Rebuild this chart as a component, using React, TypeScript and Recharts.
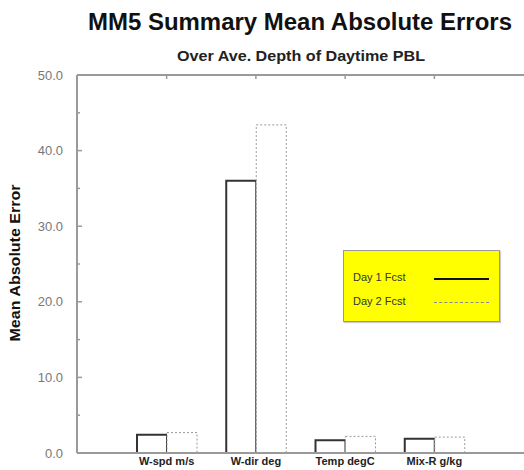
import { BarChart, Bar, XAxis, YAxis, Legend } from "recharts";

const categories = ["W-spd m/s", "W-dir deg", "Temp degC", "Mix-R g/kg"];
const day1Fcst = [2.4, 36.0, 1.7, 1.9];
const day2Fcst = [2.7, 43.4, 2.2, 2.1];
const yTicks = [0, 5, 10, 15, 20, 25, 30, 35, 40, 45, 50];

const data = categories.map((name, i) => ({ name, day1: day1Fcst[i], day2: day2Fcst[i] }));

const FONT = "'Liberation Sans', Arial, sans-serif";
const AXIS = "#9a9a9a";

const LeftTick = ({ x, y, payload }: any) => {
  const major = payload.value % 10 === 0;
  return (
    <g>
      <line x1={x} x2={x + (major ? 5 : 3)} y1={y} y2={y} stroke={AXIS} strokeWidth={1.5} />
      {major && (
        <text x={x - 14} y={y} dy="0.36em" textAnchor="end" fontSize={13} fill="#777" fontFamily={FONT}>
          {payload.value.toFixed(1)}
        </text>
      )}
    </g>
  );
};

const RightTick = ({ x, y, payload }: any) => {
  const major = payload.value % 10 === 0;
  return <line x1={x} x2={x - (major ? 5 : 3)} y1={y} y2={y} stroke={AXIS} strokeWidth={1.5} />;
};

const BottomTick = ({ x, y, payload }: any) => (
  <text x={x} y={y + 12} textAnchor="middle" fontSize={11} fontWeight="bold" fill="#222" fontFamily={FONT}>
    {payload.value}
  </text>
);

const TopTick = ({ x, y }: any) => <line x1={x} x2={x} y1={y} y2={y + 4} stroke={AXIS} strokeWidth={1.5} />;

const LegendBox = () => (
  <div
    style={{
      width: 157,
      height: 72,
      boxSizing: "border-box",
      background: "#ffff00",
      border: "1px solid #999",
      boxShadow: "1px 1px 1px #ccc",
      fontFamily: FONT,
      fontSize: 11,
      color: "#333",
      position: "relative",
    }}
  >
    <div style={{ position: "absolute", left: 9, top: 20 }}>Day 1 Fcst</div>
    <div style={{ position: "absolute", left: 90, top: 27, width: 55, borderTop: "2.5px solid #111" }} />
    <div style={{ position: "absolute", left: 9, top: 44 }}>Day 2 Fcst</div>
    <div style={{ position: "absolute", left: 90, top: 51, width: 55, borderTop: "1px dashed #888" }} />
  </div>
);

export default function App() {
  return (
    <div style={{ position: "absolute", left: 0, top: 0, width: 524, height: 470, background: "#fff", overflow: "hidden" }}>
      <BarChart
        width={524}
        height={470}
        data={data}
        margin={{ top: 70, right: 0, left: 0, bottom: 0 }}
        barSize={30}
        barGap={0}
      >
        <XAxis
          dataKey="name"
          height={17}
          padding={{ left: 45, right: 45 }}
          axisLine={{ stroke: AXIS, strokeWidth: 2 }}
          tickLine={false}
          tickSize={0}
          tickMargin={0}
          tick={<BottomTick />}
          interval={0}
        />
        <XAxis
          xAxisId="top"
          dataKey="name"
          orientation="top"
          height={5}
          padding={{ left: 45, right: 45 }}
          axisLine={{ stroke: AXIS, strokeWidth: 2 }}
          tickLine={false}
          tickSize={0}
          tickMargin={0}
          tick={<TopTick />}
          interval={0}
        />
        <YAxis
          width={77}
          domain={[0, 50]}
          ticks={yTicks}
          interval={0}
          axisLine={{ stroke: AXIS, strokeWidth: 2 }}
          tickLine={false}
          tickSize={0}
          tickMargin={0}
          tick={<LeftTick />}
        />
        <YAxis
          yAxisId="right"
          orientation="right"
          width={0}
          domain={[0, 50]}
          ticks={yTicks}
          interval={0}
          axisLine={{ stroke: "#c8c8c8", strokeWidth: 2 }}
          tickLine={false}
          tickSize={0}
          tickMargin={0}
          tick={<RightTick />}
        />
        <Legend
          layout="vertical"
          align="center"
          verticalAlign="middle"
          content={<LegendBox />}
          wrapperStyle={{ left: 343, top: 250, width: 157, height: 72 }}
        />
        <Bar dataKey="day1" name="Day 1 Fcst" fill="#fff" stroke="#333" strokeWidth={2} isAnimationActive={false} />
        <Bar
          dataKey="day2"
          name="Day 2 Fcst"
          fill="#fff"
          stroke="#999"
          strokeWidth={1}
          strokeDasharray="2 2"
          isAnimationActive={false}
        />
      </BarChart>
      <svg width={524} height={470} style={{ position: "absolute", left: 0, top: 0, pointerEvents: "none" }}>
        <text x={300} y={30} textAnchor="middle" fontSize={23} fontWeight="bold" fill="#111" fontFamily={FONT} textLength={424} lengthAdjust="spacingAndGlyphs">
          MM5 Summary Mean Absolute Errors
        </text>
        <text x={301} y={61} textAnchor="middle" fontSize={14} fontWeight="bold" fill="#222" fontFamily={FONT} textLength={248} lengthAdjust="spacingAndGlyphs">
          Over Ave. Depth of Daytime PBL
        </text>
        <text
          transform="translate(20,263) rotate(-90)"
          textAnchor="middle"
          fontSize={14}
          fontWeight="bold"
          fill="#111"
          fontFamily={FONT}
          textLength={157}
          lengthAdjust="spacingAndGlyphs"
        >
          Mean Absolute Error
        </text>
      </svg>
    </div>
  );
}
